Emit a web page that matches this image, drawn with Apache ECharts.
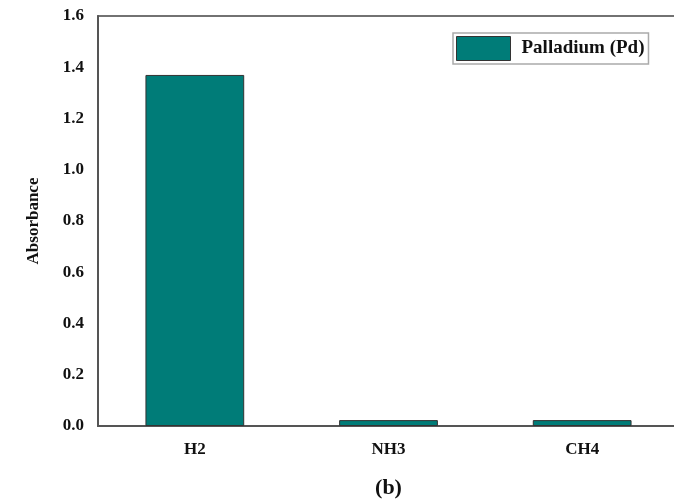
<!DOCTYPE html>
<html>
<head>
<meta charset="utf-8">
<script src="https://cdn.jsdelivr.net/npm/echarts@6/dist/echarts.min.js"></script>
<style>html,body{margin:0;padding:0;background:#fff}#c{width:674px;height:499px}</style>
</head>
<body>
<div id="c"></div>
<script>
var categories = ['H2', 'NH3', 'CH4'];
var palladium = [1.37, 0.023, 0.023];
var seriesName = 'Palladium (Pd)';
var yTicks = [0, 0.2, 0.4, 0.6, 0.8, 1.0, 1.2, 1.4, 1.6];

var chart = echarts.init(document.getElementById('c'));
var serif = '"Liberation Serif", "Times New Roman", serif';
chart.setOption({
  animation: false,
  grid: { left: 98, right: -5, top: 16, bottom: 73, containLabel: false, outerBoundsMode: 'none',
    show: true, borderColor: '#444', borderWidth: 1.5, backgroundColor: 'transparent' },
  legend: {
    left: 453, top: 33,
    data: [seriesName],
    icon: 'rect',
    itemWidth: 54, itemHeight: 24,
    padding: [3, 4, 3, 3],
    borderColor: '#aaa', borderWidth: 1.5,
    textStyle: { fontFamily: serif, fontWeight: 'bold', fontSize: 19, color: '#111', padding: [0, 0, 0, 6] },
    itemStyle: { borderColor: '#333', borderWidth: 1 }
  },
  xAxis: {
    type: 'category', data: categories,
    axisLine: { lineStyle: { color: '#555', width: 2 } },
    axisTick: { show: false },
    axisLabel: { fontFamily: serif, fontWeight: 'bold', fontSize: 17, color: '#111', margin: 15 },
    name: '(b)', nameLocation: 'middle', nameGap: 51,
    nameTextStyle: { fontFamily: serif, fontWeight: 'bold', fontSize: 22, color: '#111' }
  },
  yAxis: {
    type: 'value', min: 0, max: 1.6, interval: 0.2,
    axisLine: { show: true, lineStyle: { color: '#555', width: 2 } },
    axisTick: { show: false },
    splitLine: { show: false },
    axisLabel: { fontFamily: serif, fontWeight: 'bold', fontSize: 17, color: '#111', margin: 14,
      formatter: function (v) { return v.toFixed(1); } },
    name: 'Absorbance', nameLocation: 'middle', nameGap: 56, nameRotate: 90,
    nameTextStyle: { fontFamily: serif, fontWeight: 'bold', fontSize: 17, color: '#111' }
  },
  series: [{
    name: seriesName, type: 'bar', data: palladium, barWidth: '51%',
    itemStyle: { color: '#007c78', borderColor: '#333', borderWidth: 1 }
  }]
});
</script>
</body>
</html>
